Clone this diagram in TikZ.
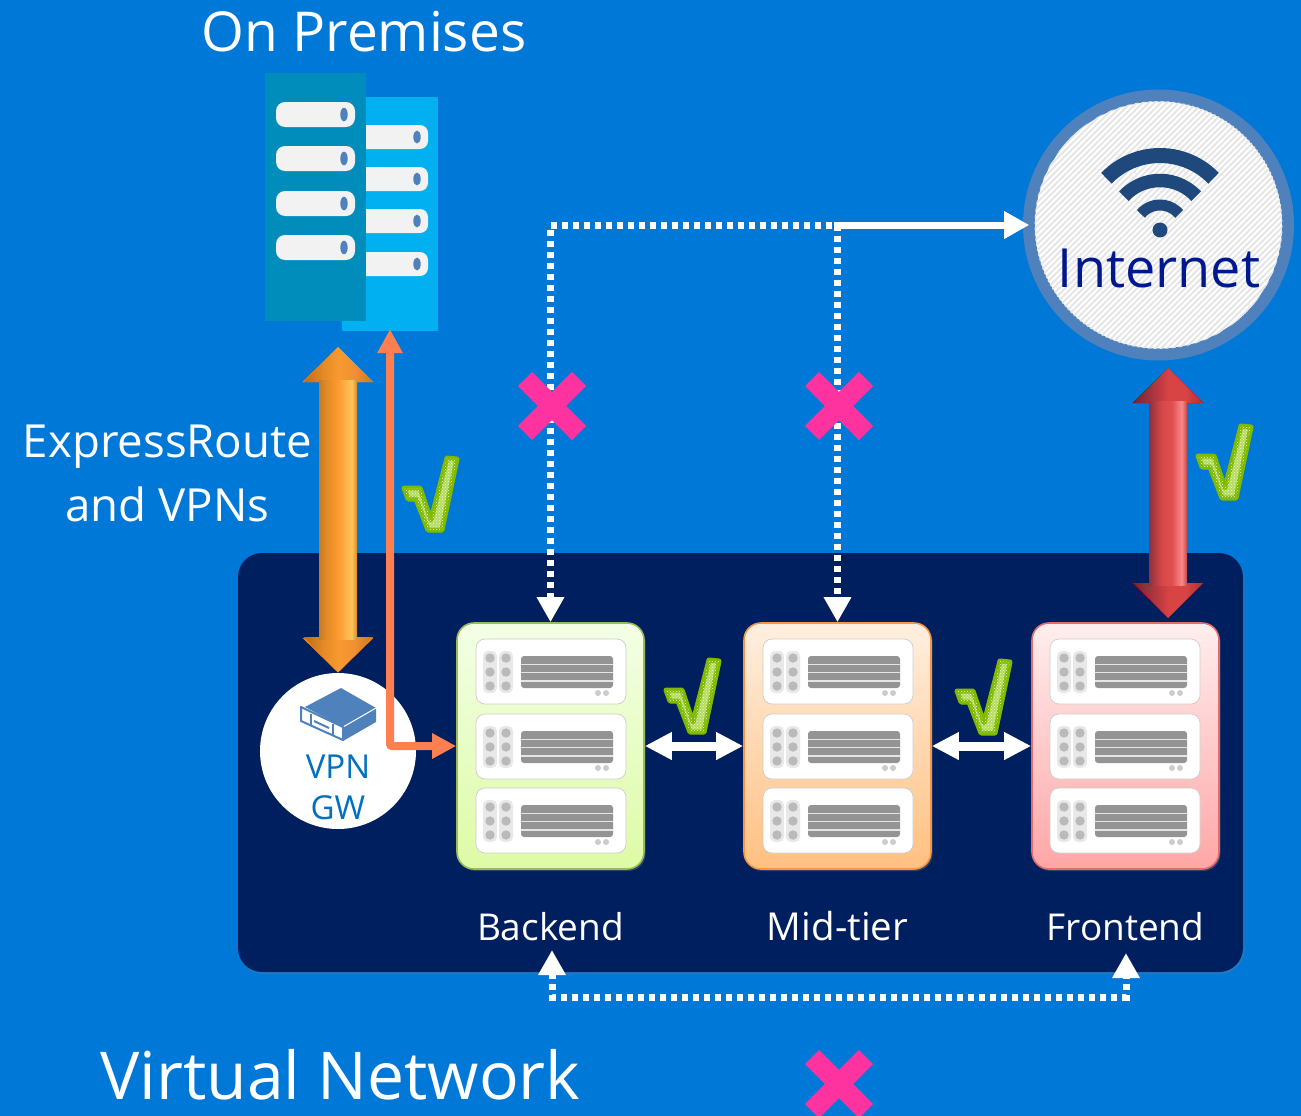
\documentclass[tikz,border=0pt]{standalone}
\usepackage{fontspec}
\setmainfont{Open Sans}
\usetikzlibrary{arrows.meta,calc,shadows,patterns}
\definecolor{bgblue}{HTML}{0078D7}
\definecolor{panelnavy}{HTML}{001F5F}
\definecolor{rackdark}{HTML}{008DBC}
\definecolor{racklight}{HTML}{00B0F0}
\definecolor{pill}{HTML}{F2F2F2}
\definecolor{steel}{HTML}{4F81BD}
\definecolor{wifiblue}{HTML}{1F497D}
\definecolor{inettext}{HTML}{00188F}
\definecolor{vpntext}{HTML}{0070C0}
\definecolor{coral}{HTML}{FF7F50}
\definecolor{pinkx}{HTML}{FF33A0}
\definecolor{chkgreen}{HTML}{7FBA00}
\definecolor{chklight}{HTML}{B5DC60}
\definecolor{oa}{HTML}{C87A20}\definecolor{ob}{HTML}{E08A28}\definecolor{oc}{HTML}{FF9A30}\definecolor{od}{HTML}{FFC45A}\definecolor{oe}{HTML}{D88A28}
\definecolor{of}{HTML}{B86E18}\definecolor{og}{HTML}{E88C28}\definecolor{oh}{HTML}{F89A30}\definecolor{oi}{HTML}{F09030}
\definecolor{ra}{HTML}{8E3040}\definecolor{rb}{HTML}{D84848}\definecolor{rc}{HTML}{E04F4F}\definecolor{rd}{HTML}{FA8888}\definecolor{re}{HTML}{C84444}
\definecolor{rf}{HTML}{702838}\definecolor{rg}{HTML}{B83840}\definecolor{rh}{HTML}{D84444}\definecolor{ri}{HTML}{B03030}
\pgfdeclarehorizontalshading{orangeshaft}{100bp}{
  color(0bp)=(oa); color(25bp)=(oa); color(34bp)=(ob);
  color(50bp)=(oc); color(68bp)=(od); color(75bp)=(oe); color(100bp)=(oe)}
\pgfdeclarehorizontalshading{orangehead}{100bp}{
  color(0bp)=(of); color(25bp)=(of); color(40bp)=(og);
  color(50bp)=(oh); color(62bp)=(oi); color(75bp)=(oa); color(100bp)=(oa)}
\pgfdeclarehorizontalshading{redshaft}{100bp}{
  color(0bp)=(ra); color(25bp)=(ra); color(42bp)=(rb);
  color(55bp)=(rc); color(68bp)=(rd); color(75bp)=(re); color(100bp)=(re)}
\pgfdeclarehorizontalshading{redhead}{100bp}{
  color(0bp)=(rf); color(25bp)=(rf); color(42bp)=(rg);
  color(50bp)=(rh); color(62bp)=(rh); color(75bp)=(ri); color(100bp)=(ri)}
\tikzset{
  x=1pt,y=-1pt,
  slabel/.style={text=white,anchor=base,inner sep=0pt,font=\fontsize{37}{42}\selectfont},
  tier/.style={rounded corners=17pt,minimum width=187pt,minimum height=246pt,inner sep=0pt,line width=1.6pt,
     drop shadow={opacity=.35,shadow xshift=1.5pt,shadow yshift=-2pt}},
  dotted link/.style={draw=white,line width=7pt,dash pattern=on 6pt off 5pt,
     {Triangle[length=25pt,width=26pt]}-{Triangle[length=25pt,width=26pt]}},
  white link/.style={draw=white,line width=9pt,{Triangle[length=27pt,width=26pt]}-{Triangle[length=27pt,width=26pt]}},
  coral link/.style={draw=coral,line width=8pt,rounded corners=2pt,{Triangle[length=24pt,width=24pt]}-{Triangle[length=24pt,width=24pt]}},
  pics/crossmark/.style={code={
     \draw[pinkx,line width=20pt] (-27,-27) -- (27,27);
     \draw[pinkx,line width=20pt] (-27,27) -- (27,-27);}},
  pics/tick/.style={code={
     \def\tickshape{(2,31) -- (18,31) -- (29,63) -- (45,1) -- (55,2) -- (40,73) -- (26,73) -- (14,42) -- (6,42) -- cycle}
     \fill[chkgreen!70!black] [shift={(2,2)}] \tickshape;
     \filldraw[draw=chkgreen,line width=5pt,line join=round,fill=chklight] \tickshape;
     \fill[pattern=crosshatch dots,pattern color=white!75!chklight] \tickshape;}},
  pics/slot/.style={code={
     \draw[draw=black!20,fill=white,line width=.7pt,rounded corners=9pt] (0,0) rectangle (150,65);
     \foreach \cx in {14,30}{
       \fill[black!9,rounded corners=5pt] (\cx-7,12) rectangle (\cx+7,54);
       \foreach \cy in {19,33,47}{\fill[black!27] (\cx,\cy) circle[radius=4.7pt];}}
     \fill[black!42,rounded corners=3pt] (45,17) rectangle (137,49);
     \foreach \sy in {24.5,32.5,41}{\fill[white!90!black] (45,\sy) rectangle (137,\sy+1.6);}
     \fill[black!20] (122,54) circle[radius=3pt] (130,54) circle[radius=3pt];}}
}
\begin{document}
\begin{tikzpicture}
\useasboundingbox (0,0) rectangle (1301,1116);
\fill[bgblue] (0,0) rectangle (1301,1116);

% panel
\node[fill=panelnavy,rounded corners=24pt,minimum width=1005pt,minimum height=419pt,inner sep=0pt,
      drop shadow={opacity=.25,shadow xshift=1.5pt,shadow yshift=-2pt}] (panel) at (740.5,762.5) {};

% titles
\node[text=white,anchor=base,inner sep=0pt,font=\fontsize{55}{60}\selectfont] (onprem) at (364,52) {On Premises};
\node[text=white,anchor=base,inner sep=0pt,font=\fontsize{66}{70}\selectfont] (vnet) at (340.5,1099) {Virtual Network};
\node[text=white,anchor=base,inner sep=0pt,font=\fontsize{45.6}{50}\selectfont] (er1) at (167.5,457) {ExpressRoute};
\node[text=white,anchor=base,inner sep=0pt,font=\fontsize{45.6}{50}\selectfont] (er2) at (167.5,521) {and VPNs};

% racks
\node[fill=racklight,minimum width=96pt,minimum height=234pt,inner sep=0pt] (rackback) at (390,214) {};
\foreach \py in {125,167,209,252}{
  \fill[pill,rounded corners=8pt] (355,\py) rectangle (428,\py+24);
  \fill[steel] (417,\py+12) ellipse[x radius=3.7pt,y radius=6.5pt];
}
\node[fill=rackdark,minimum width=101pt,minimum height=248pt,inner sep=0pt] (rackfront) at (315.5,197) {};
\foreach \py in {102,146,191,235}{
  \fill[pill,rounded corners=9pt] (276,\py) rectangle (355,\py+25);
  \fill[steel] (344,\py+12.5) ellipse[x radius=3.7pt,y radius=6.8pt];
}

% internet
\node[circle,draw=steel,line width=12pt,fill=white,minimum size=259pt,inner sep=0pt] (internet) at (1158.5,225) {};
\begin{scope}
  \clip (1158.5,225) circle[radius=124pt];
  \foreach \d in {-300,-294,...,300}{
    \draw[black!10,line width=1.8pt] (1158.5+\d-140,365) -- (1158.5+\d+140,85);
  }
\end{scope}
\coordinate (wf) at (1160,230);
\fill[wifiblue] (wf) circle[radius=7.5pt];
\draw[wifiblue,line width=15pt] ([shift={(136:74.5pt)}]wf) arc[start angle=136,end angle=44,radius=74.5pt];
\draw[wifiblue,line width=13.5pt] ([shift={(137:49.5pt)}]wf) arc[start angle=137,end angle=43,radius=49.5pt];
\draw[wifiblue,line width=11pt] ([shift={(140:25pt)}]wf) arc[start angle=140,end angle=40,radius=25pt];
\node[text=inettext,anchor=base,inner sep=0pt,font=\fontsize{54}{60}\selectfont] (inettxt) at (1159,287) {Internet};

% VPN gateway
\node[circle,fill=white,minimum size=156pt,inner sep=0pt] (vpn) at (338,751) {};
\fill[steel] (341,688) -- (376,708) -- (343,727) -- (305,707) -- cycle;
\fill[steel] (343,727) -- (376,708) -- (376,722) -- (343,741) -- cycle;
\draw[white,line width=1pt] (343,727) -- (376,708);
\draw[steel,line width=2pt,fill=white,line join=round] (301,707) -- (343,727) -- (343,740) -- (301,721) -- cycle;
\draw[steel,line width=2pt] (311,714) -- (311,725) (333,724) -- (333,735);
\draw[steel,line width=2pt] (314,721) -- (329,728);
\node[text=vpntext,anchor=base,inner sep=0pt,font=\fontsize{33}{36}\selectfont] (vpn1) at (338,778) {VPN};
\node[text=vpntext,anchor=base,inner sep=0pt,font=\fontsize{33}{36}\selectfont] (vpn2) at (338,819) {GW};

% tiers
\definecolor{gtop}{HTML}{F3FFE6}\definecolor{gbot}{HTML}{DDFBA5}\definecolor{gbrd}{HTML}{9BBB59}
\definecolor{otop}{HTML}{FFEFE0}\definecolor{obot}{HTML}{FFC080}\definecolor{obrd}{HTML}{F79646}
\definecolor{rtop}{HTML}{FFEEEE}\definecolor{rbot}{HTML}{FFA6A6}\definecolor{rbrd}{HTML}{E46C6C}
\node[tier,draw=gbrd,top color=gtop,bottom color=gbot] (backend) at (550.5,746) {};
\node[tier,draw=obrd,top color=otop,bottom color=obot] (midtier) at (837.5,746) {};
\node[tier,draw=rbrd,top color=rtop,bottom color=rbot] (frontend) at (1125.5,746) {};
\foreach \bx in {476,763,1050}{
  \foreach \by in {639,714,788}{
    \pic at (\bx,\by) {slot};
  }
}
\node[slabel] (lblb) at (550.5,940) {Backend};
\node[slabel,font=\fontsize{38.5}{42}\selectfont] (lblm) at (837.5,940) {Mid-tier};
\node[slabel] (lblf) at (1125.5,940) {Frontend};

% coordinates for free ends
\coordinate (bb) at (552,950);
\coordinate (fb) at (1126,953);
\coordinate (bus) at (0,997);
\coordinate (ertop) at (338,347);
\coordinate (rttop) at (1168,368);
\coordinate (rtbot) at (1168,618);

% dotted links
\draw[dotted link] (backend.north) -- (backend.north |- internet.west) -- ([xshift=6pt]internet.west);
\draw[dotted link,dash phase=6pt] (midtier.north) -- (midtier.north |- internet.west) -- ([xshift=6pt]internet.west);
\draw[dotted link] (bb) -- (bb |- bus) -- (bus -| fb) -- (fb);
\draw[white link] (backend.east) -- (midtier.west);
\draw[white link] (midtier.east) -- (frontend.west);

% big arrows
\draw[draw=orange,line width=38pt,{Triangle[length=35pt,width=69pt]}-{Triangle[length=35pt,width=69pt]}] (ertop) -- (vpn.north);
\path[shading=orangehead] (338,347) -- (373,382) -- (304,382) -- cycle;
\path[shading=orangehead] (338,672) -- (373,637) -- (304,637) -- cycle;
\path[shading=orangeshaft] (319,380) rectangle (357,639);
\draw[draw=red!70!black,line width=38pt,{Triangle[length=35pt,width=69pt]}-{Triangle[length=35pt,width=69pt]}] (rttop) -- (rtbot);
\path[shading=redhead] (1168,368) -- (1203,403) -- (1134,403) -- cycle;
\path[shading=redhead] (1168,618) -- (1203,583) -- (1134,583) -- cycle;
\path[shading=redshaft] (1149,401) rectangle (1187,585);

% coral link
\draw[coral link] (backend.west) -| ([yshift=2pt]rackback.south);

% marks
\pic at (552,406) {crossmark};
\pic at (839,406) {crossmark};
\pic at (839,1084) {crossmark};
\pic at (402,457) {tick};
\pic at (664,659) {tick};
\pic at (955,660) {tick};
\pic at (1196,425) {tick};
\end{tikzpicture}
\end{document}
